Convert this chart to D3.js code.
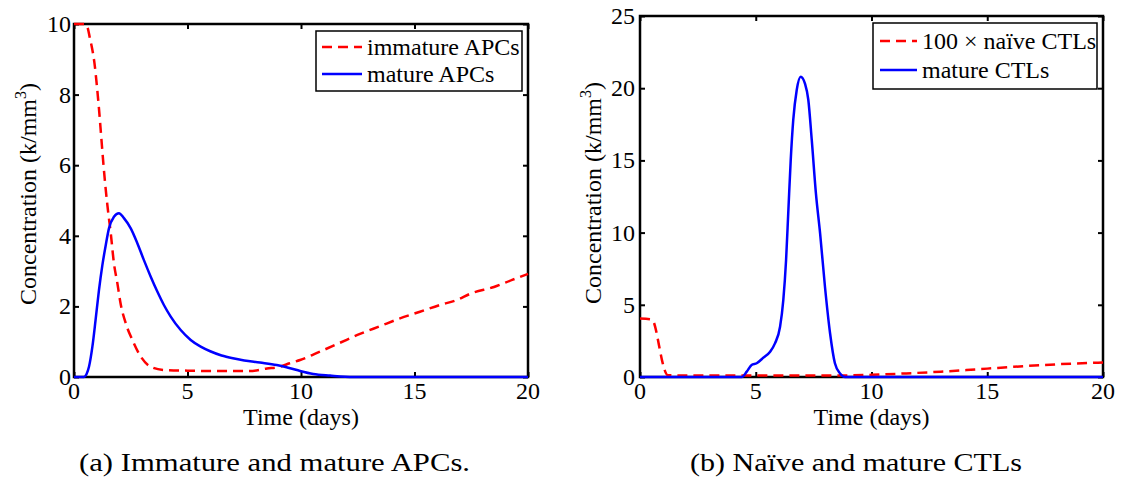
<!DOCTYPE html>
<html><head><meta charset="utf-8">
<script src="https://cdn.jsdelivr.net/npm/d3@7"></script>
<style>
html,body{margin:0;padding:0;background:#fff;}
svg{display:block;}
</style></head>
<body>
<svg id="chart" width="1123" height="479"></svg>
<script>
// ---------- data ----------
const xTicks = [0, 5, 10, 15, 20];
const yTicksA = [0, 2, 4, 6, 8, 10];
const yTicksB = [0, 5, 10, 15, 20, 25];

const tImmatureAPC = [0, 0.5, 0.6, 0.7, 0.8, 0.9, 1.0, 1.1, 1.2, 1.3, 1.4, 1.5, 1.62, 1.76, 1.91, 2.05, 2.28, 2.57, 2.94, 3.38, 3.96, 5, 6, 7, 7.75, 8.5, 9.07, 9.5, 9.96, 10.84, 11.72, 12.6, 13.48, 14.36, 15.24, 16.12, 16.86, 17.5, 18.5, 19.3, 20];
const immatureAPC = [10, 10, 9.9, 9.6, 9.3, 8.9, 8.3, 7.6, 6.8, 6.0, 5.3, 4.7, 4.07, 3.22, 2.66, 2.09, 1.52, 1.05, 0.58, 0.29, 0.2, 0.18, 0.17, 0.17, 0.17, 0.24, 0.29, 0.39, 0.48, 0.72, 0.97, 1.22, 1.44, 1.66, 1.85, 2.04, 2.18, 2.37, 2.55, 2.75, 2.92];

const tMatureAPC = [0, 0.44, 0.55, 0.66, 0.81, 0.95, 1.10, 1.25, 1.40, 1.54, 1.76, 1.98, 2.20, 2.50, 2.79, 3.08, 3.38, 3.67, 3.96, 4.26, 4.7, 5.14, 5.58, 6.0, 6.5, 7.0, 7.5, 8.19, 8.93, 9.52, 9.96, 10.54, 11.28, 12.3, 20];
const matureAPC = [0, 0, 0.08, 0.29, 0.86, 1.61, 2.46, 3.17, 3.74, 4.21, 4.54, 4.64, 4.5, 4.21, 3.79, 3.31, 2.84, 2.42, 2.04, 1.71, 1.33, 1.05, 0.86, 0.73, 0.61, 0.53, 0.47, 0.41, 0.34, 0.25, 0.17, 0.085, 0.04, 0, 0];

const tNaiveCTL = [0, 0.45, 0.58, 0.72, 0.82, 0.98, 1.06, 1.2, 2, 4, 6, 8, 10, 11.5, 13, 14.1, 15, 16.1, 17.3, 18.7, 20];
const naiveCTL100 = [4.05, 4.0, 3.83, 3.03, 2.2, 0.96, 0.5, 0.12, 0.1, 0.1, 0.1, 0.1, 0.15, 0.25, 0.37, 0.48, 0.58, 0.7, 0.82, 0.93, 1.0];

const tMatureCTL = [0, 4.4, 4.61, 4.82, 5.04, 5.33, 5.62, 5.83, 6.05, 6.19, 6.31, 6.41, 6.51, 6.62, 6.77, 6.94, 7.13, 7.27, 7.42, 7.6, 7.78, 7.99, 8.21, 8.42, 8.64, 8.86, 20];
const matureCTL = [0, 0, 0.37, 0.83, 0.95, 1.34, 1.75, 2.33, 3.48, 5.33, 8.1, 11.57, 15.0, 17.8, 19.88, 20.8, 20.3, 19.2, 16.4, 12.7, 9.95, 6.25, 3.03, 0.95, 0.25, 0, 0];

const legendA = ["immature APCs", "mature APCs"];
const legendB = ["100 \u00d7 na\u00efve CTLs", "mature CTLs"];
const captions = ["(a) Immature and mature APCs.", "(b) Na\u00efve and mature CTLs"];
const xLabel = "Time (days)";

// ---------- drawing ----------
const svg = d3.select("#chart");
const RED = "#ff0000", BLUE = "#0000ff";
const FS = 24;

function txt(sel) { return sel.append("text").style("font-family", '"Liberation Serif"').attr("fill", "#000"); }

function panel(cfg) {
  const x = d3.scaleLinear().domain([0, 20]).range([cfg.left, cfg.right]);
  const y = d3.scaleLinear().domain(cfg.yDomain).range([cfg.bottom, cfg.top]);
  const g = svg.append("g");

  const tl = 5;
  const axB = d3.axisBottom(x).tickValues(xTicks).tickSize(-tl).tickFormat("");
  const axT = d3.axisTop(x).tickValues(xTicks).tickSize(-tl).tickFormat("");
  const axL = d3.axisLeft(y).tickValues(cfg.yTicks).tickSize(-tl).tickFormat("");
  const axR = d3.axisRight(y).tickValues(cfg.yTicks).tickSize(-tl).tickFormat("");
  [[axB, `translate(0,${cfg.bottom})`], [axT, `translate(0,${cfg.top})`],
   [axL, `translate(${cfg.left},0)`], [axR, `translate(${cfg.right},0)`]].forEach(([ax, tr]) => {
    const a = g.append("g").attr("transform", tr).call(ax);
    a.select(".domain").remove();
    a.selectAll(".tick line").attr("stroke", "#000").attr("stroke-width", 2);
  });

  xTicks.forEach(d => {
    txt(g).attr("x", x(d)).attr("y", cfg.bottom + 22)
      .attr("text-anchor", "middle").style("font-size", FS + "px").text(d);
  });
  cfg.yTicks.forEach(d => {
    txt(g).attr("x", cfg.left - cfg.yLabGap).attr("y", y(d) + 8)
      .attr("text-anchor", "end").style("font-size", FS + "px").text(d);
  });

  g.append("rect").attr("x", cfg.left).attr("y", cfg.top)
    .attr("width", cfg.right - cfg.left).attr("height", cfg.bottom - cfg.top)
    .attr("fill", "none").attr("stroke", "#000").attr("stroke-width", 2.5);

  const line = d3.line().x(d => x(d[0])).y(d => y(d[1])).curve(d3.curveMonotoneX);
  g.append("path").datum(d3.zip(cfg.t1, cfg.v1)).attr("d", line)
    .attr("fill", "none").attr("stroke", RED).attr("stroke-width", 2.5).attr("stroke-dasharray", "10,6");
  g.append("path").datum(d3.zip(cfg.t2, cfg.v2)).attr("d", line)
    .attr("fill", "none").attr("stroke", BLUE).attr("stroke-width", 2.5);

  txt(g).attr("x", (cfg.left + cfg.right) / 2).attr("y", cfg.bottom + 48)
    .attr("text-anchor", "middle").style("font-size", FS + "px").text(xLabel);
  const yl = txt(g)
    .attr("transform", `translate(${cfg.yLabX},${cfg.yLabY}) rotate(-90)`)
    .attr("text-anchor", "middle").style("font-size", FS + "px");
  yl.append("tspan").text("Concentration (k/mm");
  yl.append("tspan").attr("dy", -10).style("font-size", "16px").text("3");
  yl.append("tspan").attr("dy", 10).text(")");

  const L = cfg.legend;
  g.append("rect").attr("x", L.x0).attr("y", L.y0).attr("width", L.x1 - L.x0).attr("height", L.y1 - L.y0)
    .attr("fill", "#fff").attr("stroke", "#000").attr("stroke-width", 1.5);
  cfg.legendText.forEach((s, i) => {
    const ly = L.rows[i];
    g.append("line").attr("x1", L.lx0).attr("x2", L.lx1).attr("y1", ly).attr("y2", ly)
      .attr("stroke", i === 0 ? RED : BLUE).attr("stroke-width", 2.5)
      .attr("stroke-dasharray", i === 0 ? "10,6" : null);
    txt(g).attr("x", L.tx).attr("y", ly + 8).style("font-size", FS + "px").text(s);
  });

  txt(g).attr("x", cfg.capX).attr("y", 471).attr("text-anchor", "middle")
    .style("font-size", "25px").attr("textLength", cfg.capW).attr("lengthAdjust", "spacingAndGlyphs")
    .text(cfg.caption);
}

panel({
  left: 74, right: 528, top: 24, bottom: 377, yDomain: [0, 10], yTicks: yTicksA, yLabGap: 3,
  t1: tImmatureAPC, v1: immatureAPC, t2: tMatureAPC, v2: matureAPC,
  yLabX: 36, yLabY: 194,
  legend: {x0: 316, x1: 522, y0: 31, y1: 91, lx0: 322, lx1: 362, tx: 367, rows: [47, 74]},
  legendText: legendA, caption: captions[0], capX: 274.5, capW: 391
});
panel({
  left: 640, right: 1103, top: 16, bottom: 377, yDomain: [0, 25], yTicks: yTicksB, yLabGap: 5,
  t1: tNaiveCTL, v1: naiveCTL100, t2: tMatureCTL, v2: matureCTL,
  yLabX: 601, yLabY: 193,
  legend: {x0: 873, x1: 1097, y0: 23, y1: 89, lx0: 880, lx1: 917, tx: 922, rows: [41, 70]},
  legendText: legendB, caption: captions[1], capX: 856, capW: 332
});
</script>
</body></html>
